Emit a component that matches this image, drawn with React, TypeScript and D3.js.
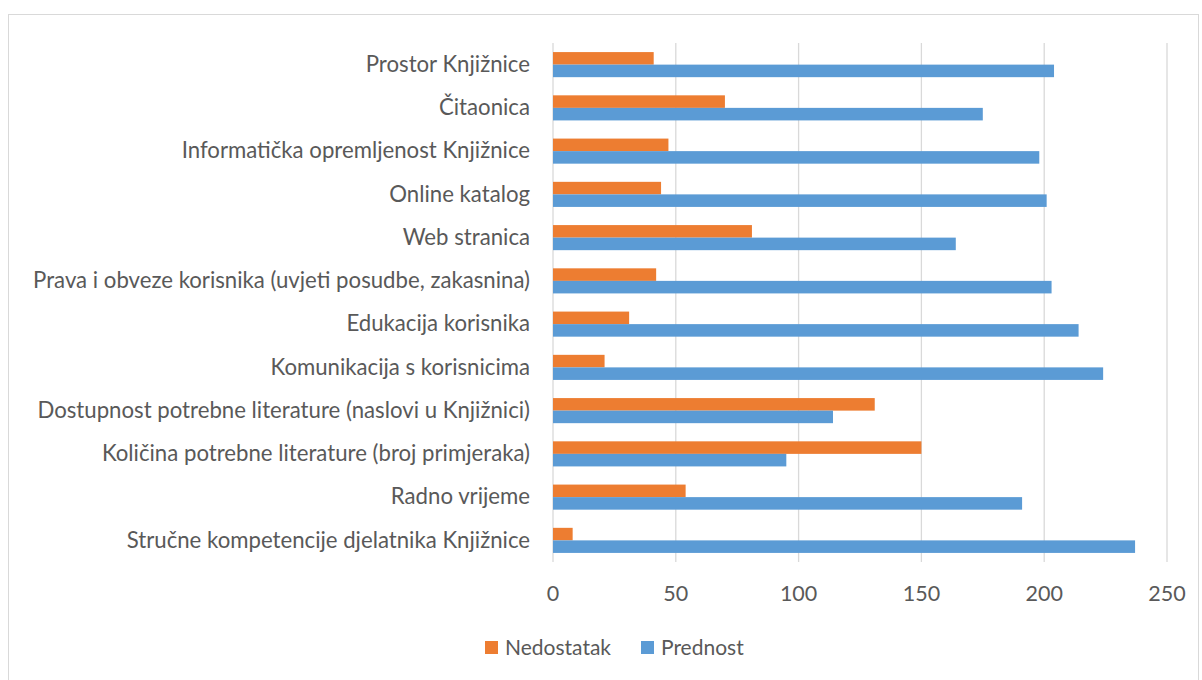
import React from "react";
import * as d3 from "d3";

const categories = [
  "Prostor Knjižnice",
  "Čitaonica ",
  "Informatička opremljenost Knjižnice",
  "Online katalog",
  "Web stranica",
  "Prava i obveze korisnika (uvjeti posudbe, zakasnina)",
  "Edukacija korisnika",
  "Komunikacija s korisnicima",
  "Dostupnost potrebne literature (naslovi u Knjižnici)",
  "Količina potrebne literature (broj primjeraka)",
  "Radno vrijeme",
  "Stručne kompetencije djelatnika Knjižnice",
];
const nedostatak = [41, 70, 47, 44, 81, 42, 31, 21, 131, 150, 54, 8];
const prednost = [204, 175, 198, 201, 164, 203, 214, 224, 114, 95, 191, 237];
const xTicks = [0, 50, 100, 150, 200, 250];
const seriesNames = ["Nedostatak", "Prednost"];
const seriesColors = ["#ED7D31", "#5B9BD5"];

const W = 1202;
const H = 680;
const FONT = "Lato, 'Open Sans', sans-serif";
const TEXT = "#595959";
const FS = 22.2;

export default function App() {
  const x = d3.scaleLinear().domain([0, 250]).range([553, 1167]);
  const y = d3.scaleBand<string>().domain(categories).range([43, 562]).paddingInner(0.42).paddingOuter(0.21);
  const sub = d3.scaleBand<string>().domain(seriesNames).range([0, y.bandwidth()]);
  const series = [nedostatak, prednost];

  return (
    <svg width={W} height={H} style={{ position: "absolute", left: 0, top: 0, background: "#fff" }} fontFamily={FONT}>
      <rect x={8.5} y={14.5} width={1190} height={670} fill="#fff" stroke="#d9d9d9" strokeWidth={1} />
      {xTicks.map((t) => (
        <g key={t}>
          <line x1={x(t)} x2={x(t)} y1={43} y2={562} stroke="#d9d9d9" strokeWidth={1.3} />
          <text x={x(t)} y={593} dy="0.35em" textAnchor="middle" fontSize={21.5} fill={TEXT}>
            {t}
          </text>
        </g>
      ))}
      {categories.map((c, i) => (
        <g key={c}>
          {series.map((vals, s) => (
            <rect
              key={s}
              x={x(0)}
              y={(y(c) as number) + (sub(seriesNames[s]) as number)}
              width={x(vals[i]) - x(0)}
              height={sub.bandwidth()}
              fill={seriesColors[s]}
            />
          ))}
          <text
            x={530}
            y={(y(c) as number) + y.bandwidth() / 2 - 0.5}
            dy="0.35em"
            textAnchor="end"
            fontSize={FS}
            fill={TEXT}
          >
            {c}
          </text>
        </g>
      ))}
      {seriesNames.map((n, s) => {
        const lx = s === 0 ? 485 : 641;
        return (
          <g key={n}>
            <rect x={lx} y={641} width={13} height={13} fill={seriesColors[s]} />
            <text x={lx + 20} y={647.5} dy="0.35em" fontSize={21} fill={TEXT}>
              {n}
            </text>
          </g>
        );
      })}
    </svg>
  );
}
